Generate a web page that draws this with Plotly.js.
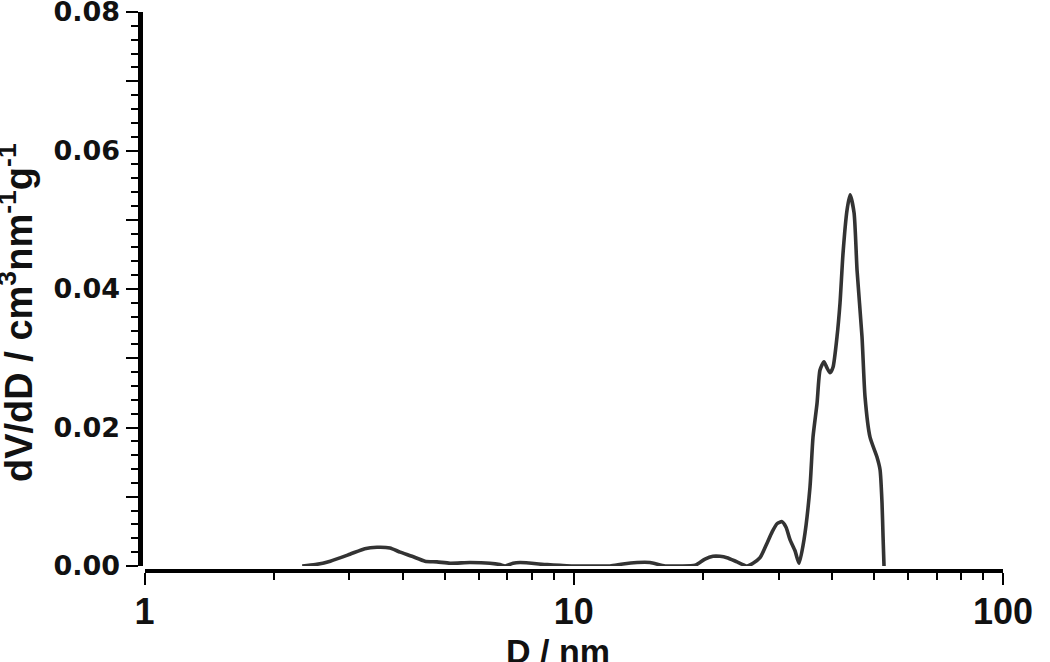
<!DOCTYPE html>
<html>
<head>
<meta charset="utf-8">
<script src="https://cdn.plot.ly/plotly-3.0.1.min.js"></script>
<style>html,body{margin:0;padding:0;background:#fff}#chart{width:1050px;height:662px}</style>
</head>
<body>
<div id="chart"></div>
<script>
// Pore diameter D (nm)
const poreDiameter = [2.33, 2.50, 2.71, 3.01, 3.26, 3.48, 3.73, 3.94, 4.20, 4.50, 4.80, 5.15, 5.73, 6.38, 6.73, 6.92, 7.22, 7.50, 8.67, 9.29, 9.96, 10.91, 12.15, 13.02, 14.04, 15.05, 16.32, 17.68, 19.17, 20.22, 21.10, 21.91, 22.75, 24.01, 25.33, 26.16, 27.16, 28.20, 28.97, 29.75, 30.56, 31.23, 31.90, 32.77, 33.48, 34.39, 35.51, 36.09, 36.88, 37.47, 38.28, 38.90, 39.54, 40.18, 41.05, 41.72, 42.40, 43.32, 44.03, 44.98, 45.71, 46.94, 47.71, 49.00, 50.88, 51.71, 52.26, 52.55, 52.82];
// dV/dD (cm3 nm-1 g-1)
const dVdD = [0.0000, 0.0002, 0.0007, 0.0017, 0.0025, 0.0027, 0.0026, 0.0020, 0.0014, 0.0007, 0.0006, 0.0004, 0.0005, 0.0004, 0.0002, 0.0000, 0.0004, 0.0005, 0.0002, 0.0001, 0.0000, 0.0000, 0.0000, 0.0003, 0.0005, 0.0005, 0.0000, 0.0000, 0.0001, 0.0010, 0.0014, 0.0014, 0.0012, 0.0006, 0.0000, 0.0004, 0.0012, 0.0033, 0.0049, 0.0061, 0.0064, 0.0056, 0.0038, 0.0022, 0.0004, 0.0038, 0.0114, 0.0186, 0.0235, 0.0283, 0.0295, 0.0286, 0.0279, 0.0287, 0.0331, 0.0380, 0.0452, 0.0514, 0.0536, 0.0510, 0.0427, 0.0331, 0.0244, 0.0186, 0.0157, 0.0139, 0.0091, 0.0042, 0.0000];

const yTickVals = [0, 0.01, 0.02, 0.03, 0.04, 0.05, 0.06, 0.07, 0.08];
const yTickText = ['0.00', '', '0.02', '', '0.04', '', '0.06', '', '0.08'];
const xTickVals = [1, 10, 100];
const xTickText = ['1', '10', '100'];

const W = 1050, H = 662;
const L = 100, R = 47, T = 12, B = 91;
const pw = W - L - R, ph = H - T - B;
const SANS = 'Liberation Sans';

const trace = {
  x: poreDiameter, y: dVdD, type: 'scatter', mode: 'lines',
  line: {color: '#333333', width: 3.6, shape: 'spline', smoothing: 0.6},
  hoverinfo: 'skip'
};

const layout = {
  width: W, height: H,
  margin: {l: L, r: R, t: T, b: B, pad: 0},
  paper_bgcolor: '#ffffff', plot_bgcolor: '#ffffff',
  showlegend: false,
  xaxis: {
    type: 'log', range: [0, 2],
    domain: [(144.5 - L) / pw, 1],
    anchor: 'free', position: 0,
    showgrid: false, zeroline: false,
    showline: true, linecolor: '#000', linewidth: 4,
    ticks: 'outside', ticklen: 12, tickwidth: 2, tickcolor: '#000',
    tickvals: xTickVals, ticktext: xTickText,
    ticklabelstandoff: -4, ticklabeloverflow: 'allow',
    tickfont: {family: SANS, size: 36, color: '#111', weight: 'bold'},
    minor: {ticks: 'outside', ticklen: 7, tickwidth: 2, tickcolor: '#000', tickvals: [2,3,4,5,6,7,8,9,20,30,40,50,60,70,80,90]}
  },
  yaxis: {
    range: [0, 0.08],
    domain: [5 / ph, 1],
    anchor: 'free', position: (139.5 - L) / pw,
    showgrid: false, zeroline: false,
    showline: true, linecolor: '#000', linewidth: 5,
    ticks: 'outside', ticklen: 12, tickwidth: 2, tickcolor: '#000',
    tickvals: yTickVals, ticktext: yTickText,
    ticklabeloverflow: 'allow',
    tickfont: {family: 'DejaVu Sans', size: 27, color: '#111', weight: 'bold'},
    minor: {ticks: 'outside', ticklen: 7, tickwidth: 2, tickcolor: '#000', dtick: 0.002}
  },
  annotations: [
    {text: '<b>D / nm</b>', xref: 'paper', yref: 'paper',
     x: (558 - L) / pw, y: (H - B - 651) / ph, xanchor: 'center', yanchor: 'middle',
     showarrow: false, font: {family: SANS, size: 34, color: '#111'}},
    {text: '<b>dV/dD / cm<sup>3</sup>nm<sup>-1</sup>g<sup>-1</sup></b>', xref: 'paper', yref: 'paper',
     x: (16 - L) / pw, y: (H - B - 313) / ph, xanchor: 'center', yanchor: 'middle', textangle: -90,
     showarrow: false, font: {family: SANS, size: 38, color: '#111'}}
  ]
};

Plotly.newPlot('chart', [trace], layout, {displayModeBar: false, staticPlot: true});
</script>
</body>
</html>
